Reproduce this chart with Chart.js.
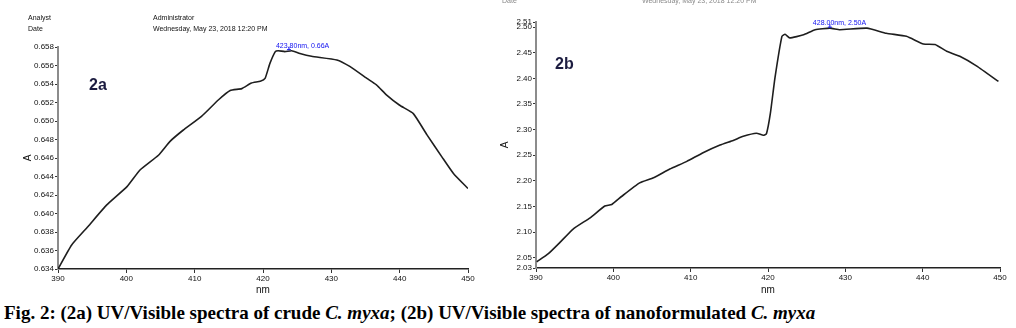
<!DOCTYPE html>
<html>
<head>
<meta charset="utf-8">
<script src="https://cdn.jsdelivr.net/npm/chart.js@4"></script>
<style>
  body { margin: 0; background: #fff; }
  #wrap { position: relative; width: 1016px; height: 328px; overflow: hidden; font-family: 'Liberation Sans', Arial, sans-serif; }
  canvas { position: absolute; top: 0; }
  #left { left: 0; }
  #right { left: 480px; }
  .hdr { position: absolute; font-size: 7px; line-height: 7px; color: #111; white-space: nowrap; }
  .faint { color: #888; }
  .tag { position: absolute; font: bold 16px 'Liberation Sans', Arial, sans-serif; color: #1c1c40; }
  #caption { position: absolute; left: 4px; top: 302px; font: bold 19px 'Liberation Serif', 'Times New Roman', serif; color: #000; white-space: nowrap; }
</style>
</head>
<body>
<div id="wrap">
  <canvas id="left" width="480" height="300"></canvas>
  <canvas id="right" width="536" height="300"></canvas>

  <div class="hdr" style="left:28px; top:14px;">Analyst</div>
  <div class="hdr" style="left:28px; top:25px;">Date</div>
  <div class="hdr" style="left:153px; top:14px;">Administrator</div>
  <div class="hdr" style="left:153px; top:25px;">Wednesday, May 23, 2018 12:20 PM</div>
  <div class="hdr faint" style="left:502px; top:-3px;">Date</div>
  <div class="hdr faint" style="left:642px; top:-3px;">Wednesday, May 23, 2018 12:20 PM</div>

  <div class="tag" style="left:89px; top:76px;">2a</div>
  <div class="tag" style="left:555px; top:55px;">2b</div>

  <div id="caption">Fig. 2: (2a) UV/Visible spectra of crude <i>C. myxa</i>; (2b) UV/Visible spectra of nanoformulated <i>C. myxa</i></div>
</div>

<script>
// wavelength axis ticks (shared)
var nmTicks = ['390', '400', '410', '420', '430', '440', '450'];

// 2a: crude C. myxa
var crudeNm = [390.0, 392.0, 394.4, 397.1, 400.1, 402.0, 404.7, 406.4, 408.3, 411.0,
               413.5, 415.2, 416.9, 418.3, 419.6, 420.3, 421.0, 421.8, 422.2, 423.2,
               424.2, 425.4, 427.1, 430.8, 432.7, 435.2, 436.6, 438.1, 440.0, 442.0,
               444.0, 446.2, 447.9, 450.0];
var crudeAbs = [0.6340, 0.6366, 0.6386, 0.6409, 0.6429, 0.6447, 0.6463, 0.6478, 0.6490, 0.6505,
                0.6523, 0.6533, 0.6535, 0.6541, 0.6543, 0.6546, 0.6562, 0.6575, 0.6576, 0.6575,
                0.6576, 0.6573, 0.6570, 0.6566, 0.6559, 0.6546, 0.6539, 0.6528, 0.6517, 0.6508,
                0.6485, 0.6461, 0.6443, 0.6427];
var crudeTicks = ['0.634', '0.636', '0.638', '0.640', '0.642', '0.644', '0.646',
                  '0.648', '0.650', '0.652', '0.654', '0.656', '0.658'];

// 2b: nanoformulated C. myxa
var nanoNm = [390.1, 391.6, 393.1, 394.8, 397.0, 398.9, 399.8, 401.1, 403.4, 405.2,
              407.3, 409.5, 411.6, 413.8, 415.5, 416.8, 418.5, 419.4, 419.8, 420.3,
              420.9, 421.8, 422.2, 422.8, 424.6, 426.1, 428.0, 429.3, 432.8, 435.3,
              437.9, 440.1, 441.6, 443.1, 444.8, 447.0, 449.8];
var nanoAbs = [2.042, 2.058, 2.080, 2.106, 2.128, 2.151, 2.154, 2.170, 2.196, 2.206,
               2.223, 2.238, 2.255, 2.270, 2.279, 2.287, 2.293, 2.289, 2.292, 2.331,
               2.401, 2.482, 2.486, 2.479, 2.485, 2.495, 2.498, 2.495, 2.498, 2.488,
               2.482, 2.467, 2.466, 2.453, 2.443, 2.424, 2.394];
var nanoTicks = ['2.03', '2.05', '2.10', '2.15', '2.20', '2.25', '2.30',
                 '2.35', '2.40', '2.45', '2.50', '2.51'];

// peak annotations
var crudePeak = { x: 423.8, y: 0.6576, text: '423.80nm, 0.66A' };
var nanoPeak = { x: 428.0, y: 2.498, text: '428.00nm, 2.50A' };

// draws the blue peak label with its little marker
var peakLabel = {
    id: 'peakLabel',
    afterDatasetsDraw: function(chart, args, opts) {
        var c = chart.ctx;
        var x = chart.scales.x.getPixelForValue(opts.x);
        var y = chart.scales.y.getPixelForValue(opts.y);
        c.save();
        c.fillStyle = '#1010f0';
        c.strokeStyle = '#1010f0';
        c.font = '7px "Liberation Sans"';
        c.textBaseline = 'alphabetic';
        c.fillText(opts.text, x - opts.dx, y - 3);
        c.lineWidth = 1;
        c.beginPath();
        c.moveTo(x - 2, y - 1); c.lineTo(x + 2, y - 1);
        c.moveTo(x, y - 1); c.lineTo(x, y - 4);
        c.stroke();
        c.restore();
    }
};

function makeChart(id, xs, ys, yTicks, layout, peak) {
    var points = xs.map(function(x, i) { return { x: x, y: ys[i] }; });
    return new Chart(document.getElementById(id), {
        type: 'line',
        data: {
            datasets: [{
                data: points,
                borderColor: '#1e1e1e',
                borderWidth: 1.6,
                pointRadius: 0,
                tension: 0.15,
                fill: false
            }]
        },
        options: {
            responsive: false,
            animation: false,
            events: [],
            layout: { padding: layout.padding },
            plugins: {
                legend: { display: false },
                tooltip: { enabled: false },
                peakLabel: { x: peak.x, y: peak.y, text: peak.text, dx: peak.dx }
            },
            scales: {
                x: {
                    type: 'linear',
                    min: Number(nmTicks[0]),
                    max: Number(nmTicks[nmTicks.length - 1]),
                    afterBuildTicks: function(s) {
                        s.ticks = nmTicks.map(function(t) { return { value: Number(t) }; });
                    },
                    afterFit: function(s) { s.height = layout.xHeight; },
                    ticks: {
                        autoSkip: false,
                        maxRotation: 0,
                        padding: 1,
                        color: '#111',
                        font: { family: 'Liberation Sans', size: 8 },
                        callback: function(v, i) { return nmTicks[i]; }
                    },
                    grid: { drawOnChartArea: false, tickLength: 4, color: '#333' },
                    border: { color: '#222', width: 1.5 },
                    title: {
                        display: true,
                        text: 'nm',
                        color: '#111',
                        font: { family: 'Liberation Sans', size: 10 },
                        padding: { top: 0, bottom: 4 }
                    }
                },
                y: {
                    type: 'linear',
                    min: Number(yTicks[0]),
                    max: Number(yTicks[yTicks.length - 1]),
                    afterBuildTicks: function(s) {
                        s.ticks = yTicks.map(function(t) { return { value: Number(t) }; });
                    },
                    afterFit: function(s) { s.width = layout.yWidth; },
                    ticks: {
                        autoSkip: false,
                        padding: 1,
                        color: '#111',
                        font: { family: 'Liberation Sans', size: 8 },
                        callback: function(v, i) { return yTicks[i]; }
                    },
                    grid: { drawOnChartArea: false, tickLength: 3, color: '#333' },
                    border: { color: '#8c8c8c', width: 2 },
                    title: {
                        display: true,
                        text: 'A',
                        color: '#111',
                        font: { family: 'Liberation Sans', size: 10 },
                        padding: { top: 4, bottom: 0 }
                    }
                }
            }
        },
        plugins: [peakLabel]
    });
}

makeChart('left', crudeNm, crudeAbs, crudeTicks,
    { padding: { left: 18, right: 12, top: 47, bottom: 0 }, yWidth: 40, xHeight: 31 },
    { x: crudePeak.x, y: crudePeak.y, text: crudePeak.text, dx: 13 });

makeChart('right', nanoNm, nanoAbs, nanoTicks,
    { padding: { left: 15, right: 16, top: 22, bottom: 0 }, yWidth: 41, xHeight: 32 },
    { x: nanoPeak.x, y: nanoPeak.y, text: nanoPeak.text, dx: 17 });
</script>
</body>
</html>
